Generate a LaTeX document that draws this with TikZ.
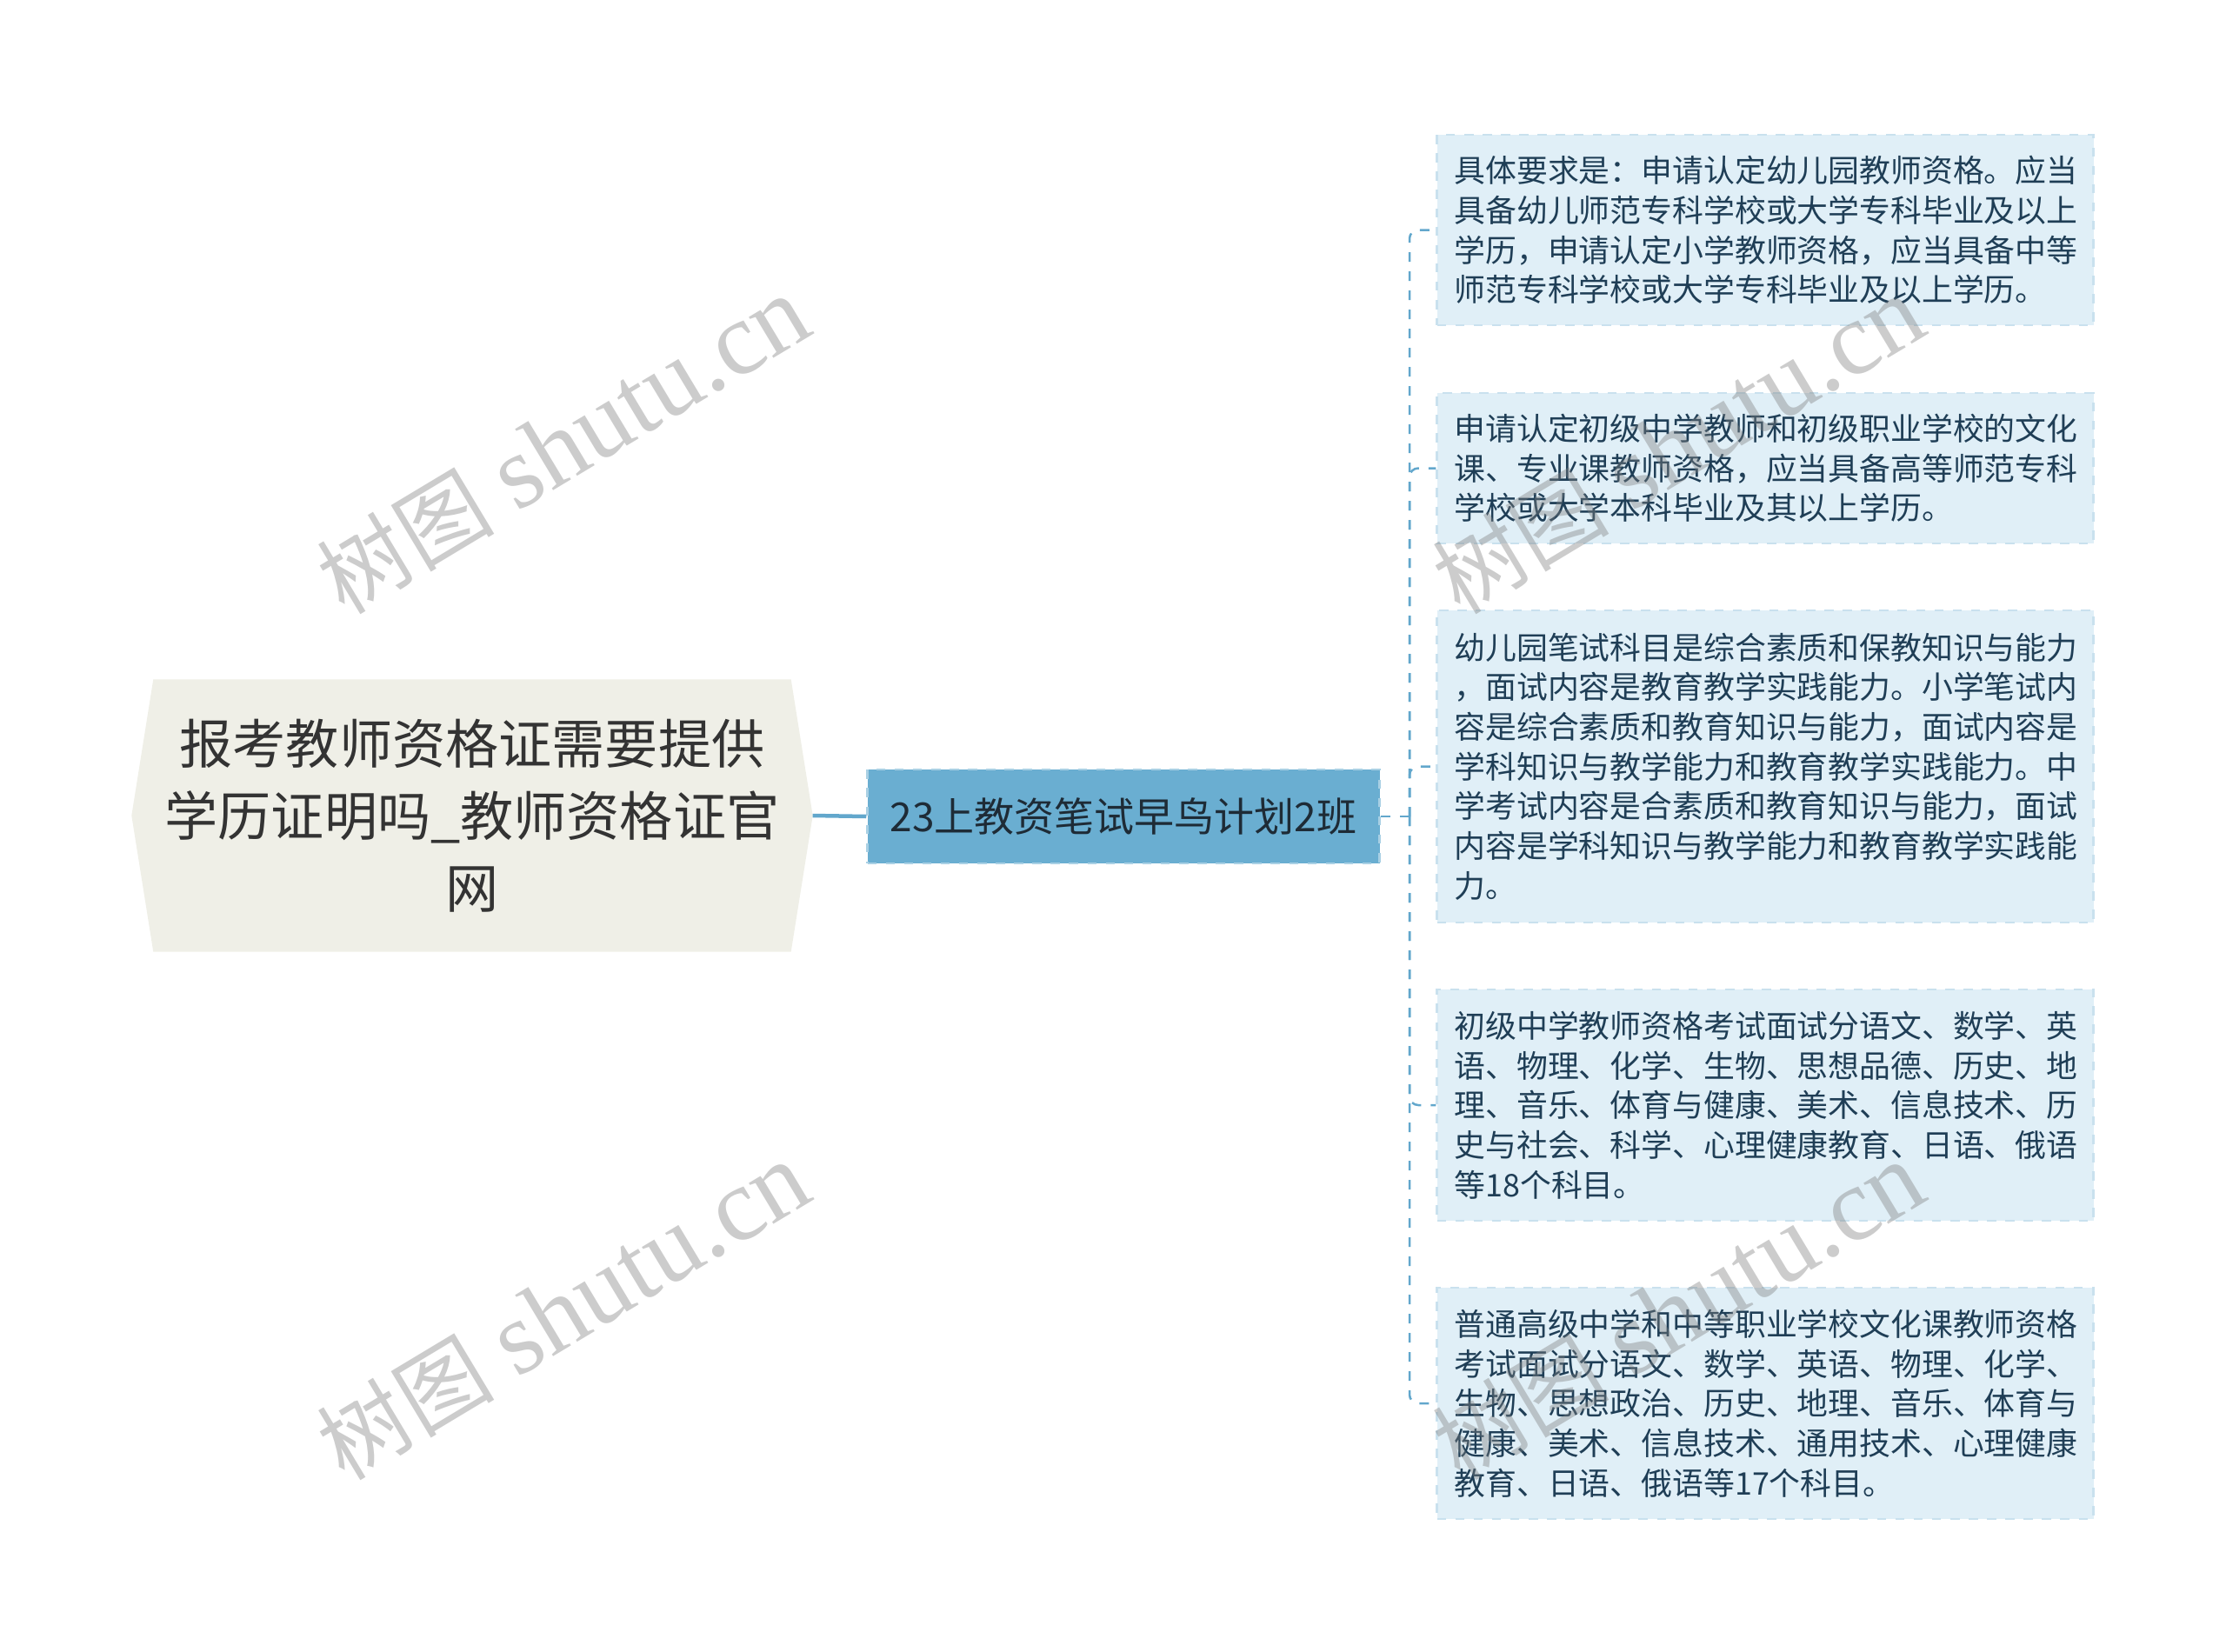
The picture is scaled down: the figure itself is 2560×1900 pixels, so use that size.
\documentclass[tikz,border=0pt]{standalone}
\usepackage{fontspec}
\setmainfont{Noto Sans CJK SC}
\newfontfamily\wmlatin{Liberation Serif}
\usetikzlibrary{backgrounds}
\definecolor{rootfill}{HTML}{EFEFE7}
\definecolor{roottext}{HTML}{333333}
\definecolor{midfill}{HTML}{6AAED1}
\definecolor{midedge}{HTML}{A9D0E4}
\definecolor{midtext}{HTML}{1E2B36}
\definecolor{leaffill}{HTML}{E0EFF7}
\definecolor{leafedge}{HTML}{C9E1EE}
\definecolor{leaftext}{HTML}{1F3E56}
\definecolor{linkblue}{HTML}{62A7CC}
\tikzset{
  rootbox/.style={inner sep=0pt, minimum width=78.2mm, minimum height=31.2mm, align=center,
    text=roottext, font=\fontsize{17.4}{23.6}\selectfont},
  midbox/.style={fill=midfill, draw=midedge, dashed, line width=0.25mm, inner sep=0pt,
    minimum width=58.9mm, minimum height=10.8mm, text=midtext, font=\fontsize{13.1}{16}\selectfont},
  leaf/.style={fill=leaffill, draw=leafedge, dashed, line width=0.25mm, inner xsep=2mm, inner ysep=0pt,
    text width=71.5mm, align=left, text=leaftext, font=\fontsize{10.2}{13}\selectfont},
  trunk/.style={draw=linkblue, line width=0.45mm},
  twig/.style={draw=linkblue, line width=0.25mm, dash pattern=on 1.1mm off 1.1mm},
  wmtext/.style={text=gray, text opacity=0.4, font=\fontsize{34}{40}\selectfont, rotate=31}
}
\newcommand{\leafnode}[4]{\node[leaf, minimum height=#3mm] (#1) at (2030,#2) {#4};}
\newcommand{\wmlabel}{{\fontsize{29}{40}\selectfont 树图} {\wmlatin shutu.cn}}

\begin{document}
\begin{tikzpicture}[x=0.1mm, y=-0.1mm]
        \useasboundingbox (0,0) rectangle (2560,1900);
        % root
        \node[rootbox] (root) at (543,938) {报考教师资格证需要提供\\学历证明吗\_教师资格证官\\网};
        \begin{scope}[on background layer]
        \fill[rootfill] ([xshift=2.5mm]root.north west) -- ([xshift=-2.5mm]root.north east) -- (root.east)
          -- ([xshift=-2.5mm]root.south east) -- ([xshift=2.5mm]root.south west) -- (root.west) -- cycle;
        \end{scope}
        % middle
        \node[midbox] (mid) at (1292,939) {23上教资笔试早鸟计划2班};
        \coordinate (fork) at (1621,939);
        % leaves
        \leafnode{leafA}{264.5}{21.9}{具体要求是：申请认定幼儿园教师资格。应当\\具备幼儿师范专科学校或大学专科毕业及以上\\学历，申请认定小学教师资格，应当具备中等\\师范专科学校或大学专科毕业及以上学历。}
        \leafnode{leafB}{538.5}{17.3}{申请认定初级中学教师和初级职业学校的文化\\课、专业课教师资格，应当具备高等师范专科\\学校或大学本科毕业及其以上学历。}
        \leafnode{leafC}{881.5}{35.9}{幼儿园笔试科目是综合素质和保教知识与能力\\，面试内容是教育教学实践能力。小学笔试内\\容是综合素质和教育知识与能力，面试内容是\\学科知识与教学能力和教育教学实践能力。中\\学考试内容是合素质和教育知识与能力，面试\\内容是学科知识与教学能力和教育教学实践能\\力。}
        \leafnode{leafD}{1271}{26.6}{初级中学教师资格考试面试分语文、数学、英\\语、物理、化学、生物、思想品德、历史、地\\理、音乐、体育与健康、美术、信息技术、历\\史与社会、科学、心理健康教育、日语、俄语\\等18个科目。}
        \leafnode{leafE}{1614}{26.6}{普通高级中学和中等职业学校文化课教师资格\\考试面试分语文、数学、英语、物理、化学、\\生物、思想政治、历史、地理、音乐、体育与\\健康、美术、信息技术、通用技术、心理健康\\教育、日语、俄语等17个科目。}
        % links
        \draw[trunk] (root.east) -- (mid.west);
        \draw[twig] (mid.east) -- (fork);
        \foreach \leaf in {leafA,leafB,leafC,leafD,leafE}
          \draw[twig, rounded corners=1mm] (fork) |- (\leaf.west);
        % watermark
        \node[wmtext] (wm1) at (648,512) {\wmlabel};
        \node[wmtext] (wm2) at (648,1508) {\wmlabel};
        \node[wmtext] (wm3) at (1930,512) {\wmlabel};
        \node[wmtext] (wm4) at (1930,1508) {\wmlabel};
\end{tikzpicture}
\end{document}
